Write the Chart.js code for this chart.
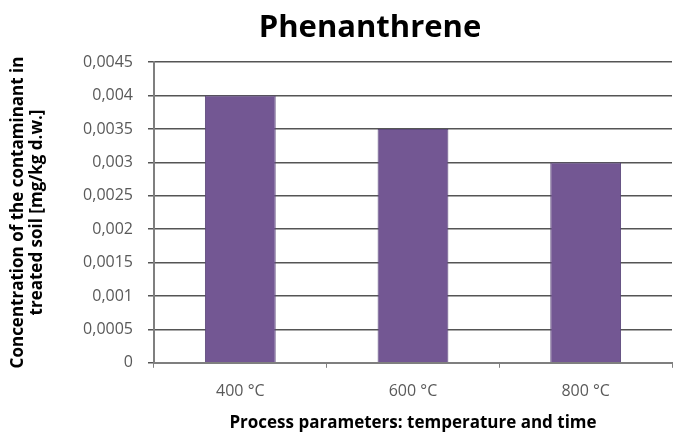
<!DOCTYPE html>
<html>
<head>
<meta charset="utf-8">
<script src="https://cdn.jsdelivr.net/npm/chart.js@4/dist/chart.umd.min.js"></script>
<style>
  html, body { margin: 0; padding: 0; background: #ffffff; }
  #wrap { width: 678px; height: 432px; }
</style>
</head>
<body>
<div id="wrap"><canvas id="c" width="678" height="432"></canvas></div>
<script>
// Phenanthrene concentration after thermal treatment
const categories = ['400 °C', '600 °C', '800 °C'];
const concentration = [0.004, 0.0035, 0.003];
const yTicks = [0, 0.0005, 0.001, 0.0015, 0.002, 0.0025, 0.003, 0.0035, 0.004, 0.0045];

const fontFamily = "'Open Sans', 'Noto Sans', sans-serif";

function formatComma(v) {
  if (v === 0) return '0';
  return String(+v.toFixed(4)).replace('.', ',');
}

// Nudge the chart title a little to the right of the canvas centre
const titleShift = {
  id: 'titleShift',
  afterLayout(chart, args, opts) {
    const tb = chart.titleBlock;
    if (tb) { tb.left += opts.dx; tb.right += opts.dx; }
  }
};

new Chart(document.getElementById('c'), {
  type: 'bar',
  data: {
    labels: categories,
    datasets: [{
      data: concentration,
      backgroundColor: '#735793',
      borderColor: '#5d4a7c',
      borderWidth: 1,
      barPercentage: 0.41,
      categoryPercentage: 1.0
    }]
  },
  plugins: [titleShift],
  options: {
    responsive: false,
    animation: false,
    devicePixelRatio: 1,
    layout: { padding: { left: 8, right: 6, top: 10, bottom: 0 } },
    plugins: {
      legend: { display: false },
      tooltip: { enabled: false },
      titleShift: { dx: 30 },
      title: {
        display: true,
        text: 'Phenanthrene',
        color: '#000000',
        font: { family: fontFamily, size: 31, weight: 'bold' },
        padding: { top: 0, bottom: 15 }
      }
    },
    scales: {
      x: {
        grid: {
          offset: true,
          drawOnChartArea: false,
          drawTicks: true,
          tickLength: 5,
          color: '#808080'
        },
        border: { color: '#7f7f7f', width: 2 },
        ticks: {
          color: '#595959',
          font: { family: fontFamily, size: 16 },
          padding: 14
        },
        title: {
          display: true,
          text: 'Process parameters: temperature and time',
          color: '#000000',
          font: { family: fontFamily, size: 17, weight: 'bold', lineHeight: 1.0 },
          padding: { top: 0, bottom: 0 }
        }
      },
      y: {
        min: 0,
        max: 0.0045,
        afterBuildTicks: (axis) => { axis.ticks = yTicks.map(v => ({ value: v })); },
        grid: {
          color: '#555555',
          lineWidth: 1.5,
          tickLength: 6,
          drawTicks: true
        },
        border: { color: '#7f7f7f', width: 2 },
        ticks: {
          color: '#595959',
          font: { family: fontFamily, size: 16 },
          padding: 15,
          callback: (v) => formatComma(v)
        },
        title: {
          display: true,
          text: ['Concentration of the contaminant in', 'treated soil [mg/kg d.w.]'],
          color: '#000000',
          font: { family: fontFamily, size: 17, weight: 'bold', lineHeight: 1.15 },
          padding: { top: 0, bottom: 21 }
        }
      }
    }
  }
});
</script>
</body>
</html>
